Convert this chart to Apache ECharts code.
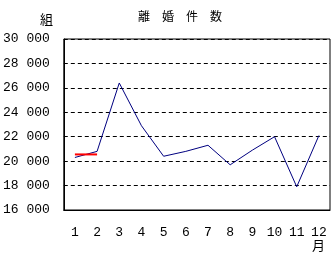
<!DOCTYPE html>
<html><head><meta charset="utf-8">
<script src="https://cdn.jsdelivr.net/npm/echarts@6/dist/echarts.min.js"></script>
<style>html,body{margin:0;padding:0;background:#fff}#c{width:335px;height:259px}</style>
</head><body><div id="c"></div>
<script>
const months = ['1','2','3','4','5','6','7','8','9','10','11','12'];
const divorces = [20300, 20800, 26400, 22900, 20400, 20800, 21300, 19700, 20900, 22000, 17900, 22100];
const prevYear = [20550, 20550, null, null, null, null, null, null, null, null, null, null];
const yTicks = [16000, 18000, 20000, 22000, 24000, 26000, 28000, 30000];
const titleText = '離\u3000婚\u3000件\u3000数';
const yUnit = '組';
const xUnit = '月';

const chart = echarts.init(document.getElementById('c'), null, {renderer: 'canvas'});
const monoFont = '"Liberation Mono", "DejaVu Sans Mono", monospace';
chart.setOption({
  animation: false,
  backgroundColor: '#fff',
  title: {
    text: titleText, left: 133, top: 5,
    textStyle: {fontSize: 12, fontWeight: 'normal', color: '#000', fontFamily: '"Noto Sans CJK JP"'}
  },
  grid: {left: 63, right: 5, top: 39, bottom: 49, show: true, borderColor: '#000', borderWidth: 1, backgroundColor: 'transparent'},
  xAxis: {
    type: 'category', data: months, boundaryGap: true,
    axisLine: {lineStyle: {color: '#000', width: 1}},
    axisTick: {inside: true, length: 4, lineStyle: {color: '#000'}},
    axisLabel: {color: '#000', fontSize: 13, margin: 16, fontFamily: monoFont},
    splitLine: {show: false}
  },
  yAxis: {
    type: 'value', min: yTicks[0], max: yTicks[yTicks.length - 1], interval: 2000,
    axisLine: {show: true, lineStyle: {color: '#000'}},
    axisTick: {show: false},
    axisLabel: {
      color: '#000', fontSize: 13, margin: 14, fontFamily: monoFont,
      formatter: v => Math.floor(v / 1000) + ' ' + String(v % 1000).padStart(3, '0')
    },
    splitLine: {show: true, lineStyle: {color: '#000', type: [4, 3], width: 1}}
  },
  graphic: [
    {type: 'text', left: 40, top: 13, style: {text: yUnit, fontSize: 13, fill: '#000', fontFamily: '"Noto Sans CJK JP"'}},
    {type: 'text', left: 312, top: 239, style: {text: xUnit, fontSize: 13, fill: '#000', fontFamily: '"Noto Sans CJK JP"'}}
  ],
  series: [
    {type: 'line', data: divorces, showSymbol: false, symbol: 'none', lineStyle: {color: '#000080', width: 1}, z: 2},
    {type: 'line', data: prevYear, showSymbol: false, symbol: 'none', lineStyle: {color: '#ff0000', width: 2}, z: 3}
  ]
});
</script></body></html>
